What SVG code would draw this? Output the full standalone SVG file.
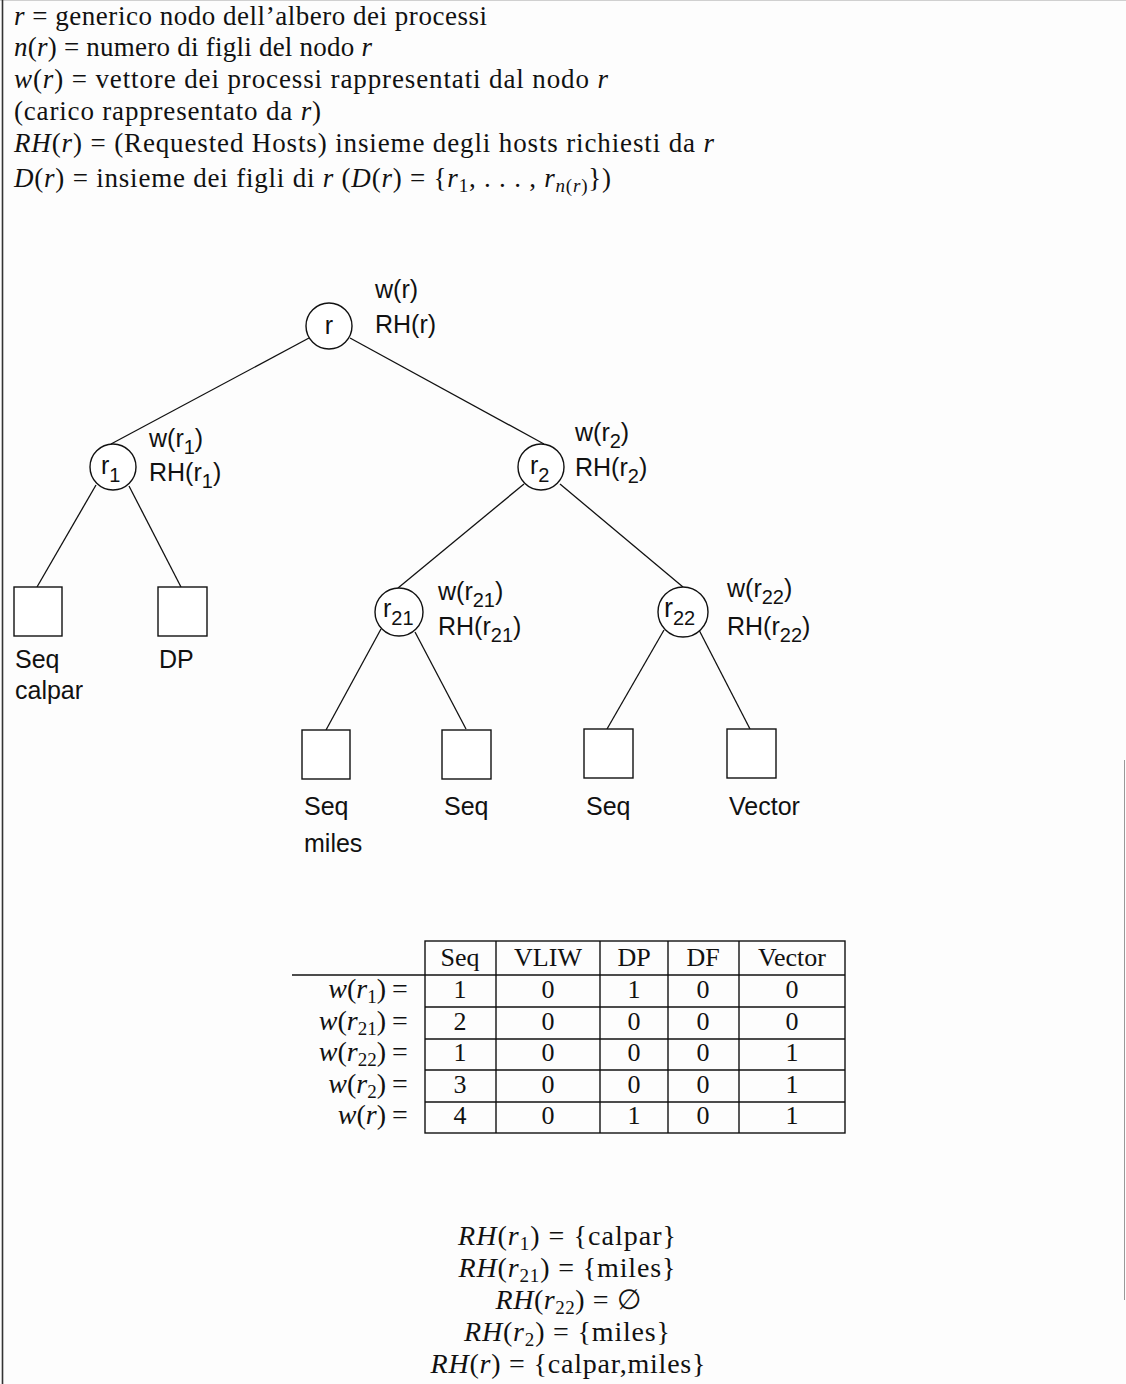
<svg xmlns="http://www.w3.org/2000/svg" width="1126" height="1384" viewBox="0 0 1126 1384">
<style>
.serif{font-family:"Liberation Serif","Times New Roman",serif;font-size:27px;fill:#111}
.big{font-size:28px}
.tab{font-family:"Liberation Serif","Times New Roman",serif;font-size:26px;fill:#111}
.it{font-style:italic}
.sub{font-size:19px}
.sans{font-family:"Liberation Sans",Arial,sans-serif;font-size:25px;fill:#111}
.ssub{font-size:20px}
.edge{stroke:#111;stroke-width:1.3;fill:none}
.node{fill:#fff;stroke:#111;stroke-width:1.4}
.grid{stroke:#111;stroke-width:1.4;fill:none}
</style>
<rect x="0" y="0" width="1126" height="1384" fill="#fdfdfd"/>
<line x1="0" y1="0.5" x2="1126" y2="0.5" stroke="#d0d0d0" stroke-width="1"/>
<line x1="2.5" y1="0" x2="2.5" y2="1384" stroke="#333" stroke-width="1.6"/>
<line x1="1124.5" y1="760" x2="1124.5" y2="1300" stroke="#999" stroke-width="1"/>

<g id="legend" class="serif">
<text x="14" y="25" textLength="473" lengthAdjust="spacing"><tspan class="it">r</tspan> = generico nodo dell’albero dei processi</text>
<text x="14" y="56" textLength="358" lengthAdjust="spacing"><tspan class="it">n</tspan>(<tspan class="it">r</tspan>) = numero di figli del nodo <tspan class="it">r</tspan></text>
<text x="14" y="88" textLength="594" lengthAdjust="spacing"><tspan class="it">w</tspan>(<tspan class="it">r</tspan>) = vettore dei processi rappresentati dal nodo <tspan class="it">r</tspan></text>
<text x="14" y="120" textLength="307" lengthAdjust="spacing">(carico rappresentato da <tspan class="it">r</tspan>)</text>
<text x="14" y="152" textLength="700" lengthAdjust="spacing"><tspan class="it">RH</tspan>(<tspan class="it">r</tspan>) = (Requested Hosts) insieme degli hosts richiesti da <tspan class="it">r</tspan></text>
<text x="14" y="187" textLength="597" lengthAdjust="spacing"><tspan class="it">D</tspan>(<tspan class="it">r</tspan>) = insieme dei figli di <tspan class="it">r</tspan> (<tspan class="it">D</tspan>(<tspan class="it">r</tspan>) = {<tspan class="it">r</tspan><tspan class="sub" dy="5">1</tspan><tspan dy="-5">, . . . , </tspan><tspan class="it">r</tspan><tspan class="sub" dy="5"><tspan class="it">n</tspan>(<tspan class="it">r</tspan>)</tspan><tspan dy="-5">})</tspan></text>
</g>

<g id="connectors">
<line class="edge" x1="309" y1="338" x2="111" y2="444"/>
<line class="edge" x1="350" y1="338" x2="544" y2="444"/>
<line class="edge" x1="96" y1="485" x2="37" y2="587"/>
<line class="edge" x1="129" y1="486" x2="181" y2="587"/>
<line class="edge" x1="524" y1="484" x2="398" y2="588"/>
<line class="edge" x1="560" y1="484" x2="683" y2="587"/>
<line class="edge" x1="381" y1="629" x2="326" y2="730"/>
<line class="edge" x1="415" y1="632" x2="466" y2="729"/>
<line class="edge" x1="664" y1="630" x2="607" y2="729"/>
<line class="edge" x1="698" y1="628" x2="750" y2="729"/>
</g>

<g id="node-r">
<circle class="node" cx="329" cy="326" r="23"/>
<text class="sans" x="329" y="334" text-anchor="middle">r</text>
<text class="sans" x="375" y="298">w(r)</text>
<text class="sans" x="375" y="333">RH(r)</text>
</g>
<g id="node-r1">
<circle class="node" cx="113" cy="467" r="23"/>
<text class="sans" x="101" y="474">r<tspan class="ssub" dy="8">1</tspan></text>
<text class="sans" x="149" y="447">w(r<tspan class="ssub" dy="7">1</tspan><tspan dy="-7">)</tspan></text>
<text class="sans" x="149" y="481">RH(r<tspan class="ssub" dy="7">1</tspan><tspan dy="-7">)</tspan></text>
</g>
<g id="node-r2">
<circle class="node" cx="541" cy="467" r="23"/>
<text class="sans" x="530" y="474">r<tspan class="ssub" dy="8">2</tspan></text>
<text class="sans" x="575" y="441">w(r<tspan class="ssub" dy="7">2</tspan><tspan dy="-7">)</tspan></text>
<text class="sans" x="575" y="476">RH(r<tspan class="ssub" dy="7">2</tspan><tspan dy="-7">)</tspan></text>
</g>
<g id="node-r21">
<circle class="node" cx="399" cy="612" r="24"/>
<text class="sans" x="383" y="617">r<tspan class="ssub" dy="8">21</tspan></text>
<text class="sans" x="438" y="600">w(r<tspan class="ssub" dy="7">21</tspan><tspan dy="-7">)</tspan></text>
<text class="sans" x="438" y="635">RH(r<tspan class="ssub" dy="7">21</tspan><tspan dy="-7">)</tspan></text>
</g>
<g id="node-r22">
<circle class="node" cx="683" cy="612" r="25"/>
<text class="sans" x="664" y="617" style="font-size:27px">r<tspan class="ssub" dy="8">22</tspan></text>
<text class="sans" x="727" y="597">w(r<tspan class="ssub" dy="7">22</tspan><tspan dy="-7">)</tspan></text>
<text class="sans" x="727" y="635">RH(r<tspan class="ssub" dy="7">22</tspan><tspan dy="-7">)</tspan></text>
</g>

<g id="leaf-seq-calpar">
<rect class="node" x="14" y="587" width="48" height="49"/>
<text class="sans" x="15" y="668">Seq</text>
<text class="sans" x="15" y="699">calpar</text>
</g>
<g id="leaf-dp">
<rect class="node" x="158" y="587" width="49" height="49"/>
<text class="sans" x="159" y="668">DP</text>
</g>
<g id="leaf-seq-miles">
<rect class="node" x="302" y="730" width="48" height="49"/>
<text class="sans" x="304" y="815">Seq</text>
<text class="sans" x="304" y="852">miles</text>
</g>
<g id="leaf-seq-21">
<rect class="node" x="442" y="730" width="49" height="49"/>
<text class="sans" x="444" y="815">Seq</text>
</g>
<g id="leaf-seq-22">
<rect class="node" x="584" y="729" width="49" height="49"/>
<text class="sans" x="586" y="815">Seq</text>
</g>
<g id="leaf-vector">
<rect class="node" x="727" y="729" width="49" height="49"/>
<text class="sans" x="729" y="815">Vector</text>
</g>

<g id="table">
<rect class="grid" x="425" y="941" width="420" height="192"/>
<line class="grid" x1="292" y1="975" x2="845" y2="975"/>
<line class="grid" x1="425" y1="1007" x2="845" y2="1007"/>
<line class="grid" x1="425" y1="1039" x2="845" y2="1039"/>
<line class="grid" x1="425" y1="1070" x2="845" y2="1070"/>
<line class="grid" x1="425" y1="1102" x2="845" y2="1102"/>
<line class="grid" x1="496" y1="941" x2="496" y2="1133"/>
<line class="grid" x1="600" y1="941" x2="600" y2="1133"/>
<line class="grid" x1="668" y1="941" x2="668" y2="1133"/>
<line class="grid" x1="739" y1="941" x2="739" y2="1133"/>
<g class="tab" text-anchor="middle">
<text x="460" y="966">Seq</text><text x="548" y="966">VLIW</text><text x="634" y="966">DP</text><text x="703" y="966">DF</text><text x="792" y="966">Vector</text>
<text x="460" y="998">1</text><text x="548" y="998">0</text><text x="634" y="998">1</text><text x="703" y="998">0</text><text x="792" y="998">0</text>
<text x="460" y="1030">2</text><text x="548" y="1030">0</text><text x="634" y="1030">0</text><text x="703" y="1030">0</text><text x="792" y="1030">0</text>
<text x="460" y="1061">1</text><text x="548" y="1061">0</text><text x="634" y="1061">0</text><text x="703" y="1061">0</text><text x="792" y="1061">1</text>
<text x="460" y="1093">3</text><text x="548" y="1093">0</text><text x="634" y="1093">0</text><text x="703" y="1093">0</text><text x="792" y="1093">1</text>
<text x="460" y="1124">4</text><text x="548" y="1124">0</text><text x="634" y="1124">1</text><text x="703" y="1124">0</text><text x="792" y="1124">1</text>
</g>
<g class="tab" style="font-size:28px">
<text x="386" y="998" text-anchor="end"><tspan class="it">w</tspan>(<tspan class="it">r</tspan><tspan class="sub" dy="5">1</tspan><tspan dy="-5">)</tspan></text>
<text x="386" y="1030" text-anchor="end"><tspan class="it">w</tspan>(<tspan class="it">r</tspan><tspan class="sub" dy="5">21</tspan><tspan dy="-5">)</tspan></text>
<text x="386" y="1061" text-anchor="end"><tspan class="it">w</tspan>(<tspan class="it">r</tspan><tspan class="sub" dy="5">22</tspan><tspan dy="-5">)</tspan></text>
<text x="386" y="1093" text-anchor="end"><tspan class="it">w</tspan>(<tspan class="it">r</tspan><tspan class="sub" dy="5">2</tspan><tspan dy="-5">)</tspan></text>
<text x="386" y="1124" text-anchor="end"><tspan class="it">w</tspan>(<tspan class="it">r</tspan>)</text>
<text x="392" y="998">=</text>
<text x="392" y="1030">=</text>
<text x="392" y="1061">=</text>
<text x="392" y="1093">=</text>
<text x="392" y="1124">=</text>
</g>
</g>

<g id="rh-sets" class="serif big" text-anchor="middle">
<text x="567" y="1245" textLength="218" lengthAdjust="spacing"><tspan class="it">RH</tspan>(<tspan class="it">r</tspan><tspan class="sub" dy="5">1</tspan><tspan dy="-5">) = {calpar}</tspan></text>
<text x="567" y="1277" textLength="217" lengthAdjust="spacing"><tspan class="it">RH</tspan>(<tspan class="it">r</tspan><tspan class="sub" dy="5">21</tspan><tspan dy="-5">) = {miles}</tspan></text>
<text x="568" y="1309" textLength="145" lengthAdjust="spacing"><tspan class="it">RH</tspan>(<tspan class="it">r</tspan><tspan class="sub" dy="5">22</tspan><tspan dy="-5">) = ∅</tspan></text>
<text x="567" y="1341" textLength="206" lengthAdjust="spacing"><tspan class="it">RH</tspan>(<tspan class="it">r</tspan><tspan class="sub" dy="5">2</tspan><tspan dy="-5">) = {miles}</tspan></text>
<text x="568" y="1373" textLength="275" lengthAdjust="spacing"><tspan class="it">RH</tspan>(<tspan class="it">r</tspan>) = {calpar,miles}</text>
</g>
</svg>
